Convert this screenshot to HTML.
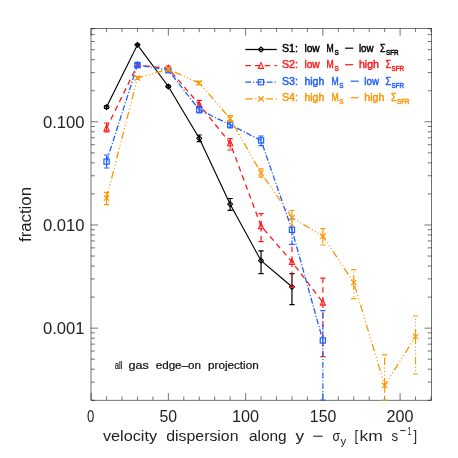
<!DOCTYPE html><html><head><meta charset="utf-8"><style>html,body{margin:0;padding:0;background:#fff}body{width:458px;height:458px;position:relative;overflow:hidden}</style></head><body><svg width="458" height="458" viewBox="0 0 458 458" style="position:absolute;left:0;top:0;opacity:0.999;will-change:transform;filter:grayscale(0);font-family:'Liberation Sans',sans-serif">
<rect width="458" height="458" fill="#fff"/>
<g stroke="#000" stroke-width="0.55" fill="none">
<rect x="91.0" y="28.5" width="340.6" height="371.7"/>
<path d="M91.10 400.2v-7.1M91.10 28.5v7.1"/>
<path d="M106.55 400.2v-3.7M106.55 28.5v3.7"/>
<path d="M122.00 400.2v-3.7M122.00 28.5v3.7"/>
<path d="M137.45 400.2v-3.7M137.45 28.5v3.7"/>
<path d="M152.90 400.2v-3.7M152.90 28.5v3.7"/>
<path d="M168.35 400.2v-7.1M168.35 28.5v7.1"/>
<path d="M183.80 400.2v-3.7M183.80 28.5v3.7"/>
<path d="M199.25 400.2v-3.7M199.25 28.5v3.7"/>
<path d="M214.70 400.2v-3.7M214.70 28.5v3.7"/>
<path d="M230.15 400.2v-3.7M230.15 28.5v3.7"/>
<path d="M245.60 400.2v-7.1M245.60 28.5v7.1"/>
<path d="M261.05 400.2v-3.7M261.05 28.5v3.7"/>
<path d="M276.50 400.2v-3.7M276.50 28.5v3.7"/>
<path d="M291.95 400.2v-3.7M291.95 28.5v3.7"/>
<path d="M307.40 400.2v-3.7M307.40 28.5v3.7"/>
<path d="M322.85 400.2v-7.1M322.85 28.5v7.1"/>
<path d="M338.30 400.2v-3.7M338.30 28.5v3.7"/>
<path d="M353.75 400.2v-3.7M353.75 28.5v3.7"/>
<path d="M369.20 400.2v-3.7M369.20 28.5v3.7"/>
<path d="M384.65 400.2v-3.7M384.65 28.5v3.7"/>
<path d="M400.10 400.2v-7.1M400.10 28.5v7.1"/>
<path d="M415.55 400.2v-3.7M415.55 28.5v3.7"/>
<path d="M431.00 400.2v-3.7M431.00 28.5v3.7"/>
<path d="M91.0 400.26h3.9M431.6 400.26h-3.9"/>
<path d="M91.0 382.10h3.9M431.6 382.10h-3.9"/>
<path d="M91.0 369.21h3.9M431.6 369.21h-3.9"/>
<path d="M91.0 359.21h3.9M431.6 359.21h-3.9"/>
<path d="M91.0 351.04h3.9M431.6 351.04h-3.9"/>
<path d="M91.0 344.13h3.9M431.6 344.13h-3.9"/>
<path d="M91.0 338.15h3.9M431.6 338.15h-3.9"/>
<path d="M91.0 332.87h3.9M431.6 332.87h-3.9"/>
<path d="M91.0 328.15h7.1M431.6 328.15h-7.1"/>
<path d="M91.0 297.09h3.9M431.6 297.09h-3.9"/>
<path d="M91.0 278.93h3.9M431.6 278.93h-3.9"/>
<path d="M91.0 266.04h3.9M431.6 266.04h-3.9"/>
<path d="M91.0 256.04h3.9M431.6 256.04h-3.9"/>
<path d="M91.0 247.87h3.9M431.6 247.87h-3.9"/>
<path d="M91.0 240.96h3.9M431.6 240.96h-3.9"/>
<path d="M91.0 234.98h3.9M431.6 234.98h-3.9"/>
<path d="M91.0 229.70h3.9M431.6 229.70h-3.9"/>
<path d="M91.0 224.98h7.1M431.6 224.98h-7.1"/>
<path d="M91.0 193.92h3.9M431.6 193.92h-3.9"/>
<path d="M91.0 175.76h3.9M431.6 175.76h-3.9"/>
<path d="M91.0 162.87h3.9M431.6 162.87h-3.9"/>
<path d="M91.0 152.87h3.9M431.6 152.87h-3.9"/>
<path d="M91.0 144.70h3.9M431.6 144.70h-3.9"/>
<path d="M91.0 137.79h3.9M431.6 137.79h-3.9"/>
<path d="M91.0 131.81h3.9M431.6 131.81h-3.9"/>
<path d="M91.0 126.53h3.9M431.6 126.53h-3.9"/>
<path d="M91.0 121.81h7.1M431.6 121.81h-7.1"/>
<path d="M91.0 90.75h3.9M431.6 90.75h-3.9"/>
<path d="M91.0 72.59h3.9M431.6 72.59h-3.9"/>
<path d="M91.0 59.70h3.9M431.6 59.70h-3.9"/>
<path d="M91.0 49.70h3.9M431.6 49.70h-3.9"/>
<path d="M91.0 41.53h3.9M431.6 41.53h-3.9"/>
<path d="M91.0 34.62h3.9M431.6 34.62h-3.9"/>
<path d="M91.0 28.64h3.9M431.6 28.64h-3.9"/>
</g>
<polyline points="106.55,107.10 137.45,44.80 168.35,86.50 199.25,138.30 230.15,204.20 261.05,260.70 291.95,286.80" fill="none" stroke="#000" stroke-width="1.15"/>
<path d="M106.55 107.10V105.80M106.55 107.10V108.40" stroke="#000" stroke-width="1.2" fill="none"/>
<path d="M103.95 105.80h5.2M103.95 108.40h5.2" stroke="#000" stroke-width="1.2" fill="none"/>
<path d="M104.05 107.10L106.55 104.60L109.05 107.10L106.55 109.60Z" fill="none" stroke="#000" stroke-width="1.1" stroke-linejoin="round"/>
<path d="M137.45 44.80V44.20M137.45 44.80V45.40" stroke="#000" stroke-width="1.2" fill="none"/>
<path d="M134.85 44.20h5.2M134.85 45.40h5.2" stroke="#000" stroke-width="1.2" fill="none"/>
<path d="M134.95 44.80L137.45 42.30L139.95 44.80L137.45 47.30Z" fill="none" stroke="#000" stroke-width="1.1" stroke-linejoin="round"/>
<path d="M168.35 86.50V85.60M168.35 86.50V87.40" stroke="#000" stroke-width="1.2" fill="none"/>
<path d="M165.75 85.60h5.2M165.75 87.40h5.2" stroke="#000" stroke-width="1.2" fill="none"/>
<path d="M165.85 86.50L168.35 84.00L170.85 86.50L168.35 89.00Z" fill="none" stroke="#000" stroke-width="1.1" stroke-linejoin="round"/>
<path d="M199.25 138.30V135.00M199.25 138.30V141.70" stroke="#000" stroke-width="1.2" fill="none"/>
<path d="M196.65 135.00h5.2M196.65 141.70h5.2" stroke="#000" stroke-width="1.2" fill="none"/>
<path d="M196.75 138.30L199.25 135.80L201.75 138.30L199.25 140.80Z" fill="none" stroke="#000" stroke-width="1.1" stroke-linejoin="round"/>
<path d="M230.15 204.20V198.50M230.15 204.20V210.30" stroke="#000" stroke-width="1.2" fill="none"/>
<path d="M227.55 198.50h5.2M227.55 210.30h5.2" stroke="#000" stroke-width="1.2" fill="none"/>
<path d="M227.65 204.20L230.15 201.70L232.65 204.20L230.15 206.70Z" fill="none" stroke="#000" stroke-width="1.1" stroke-linejoin="round"/>
<path d="M261.05 260.70V250.90M261.05 260.70V273.70" stroke="#000" stroke-width="1.2" fill="none"/>
<path d="M258.45 250.90h5.2M258.45 273.70h5.2" stroke="#000" stroke-width="1.2" fill="none"/>
<path d="M258.55 260.70L261.05 258.20L263.55 260.70L261.05 263.20Z" fill="none" stroke="#000" stroke-width="1.1" stroke-linejoin="round"/>
<path d="M291.95 286.80V273.70M291.95 286.80V304.60" stroke="#000" stroke-width="1.2" fill="none"/>
<path d="M289.35 273.70h5.2M289.35 304.60h5.2" stroke="#000" stroke-width="1.2" fill="none"/>
<path d="M289.45 286.80L291.95 284.30L294.45 286.80L291.95 289.30Z" fill="none" stroke="#000" stroke-width="1.1" stroke-linejoin="round"/>
<polyline points="106.55,128.20 137.45,65.00 168.35,68.40 199.25,104.50 230.15,143.00 261.05,226.00 291.95,261.80 322.85,302.40" fill="none" stroke="#ff1a1a" stroke-width="1.3" stroke-dasharray="5.5 4.2"/>
<path d="M106.55 128.20V123.00M106.55 128.20V132.00" stroke="#ff1a1a" stroke-width="1.2" stroke-dasharray="5.5 4.2" fill="none"/>
<path d="M103.95 123.00h5.2M103.95 132.00h5.2" stroke="#ff1a1a" stroke-width="1.2" fill="none"/>
<path d="M103.95 130.90L106.55 125.10L109.15 130.90Z" fill="none" stroke="#ff1a1a" stroke-width="1.1"/>
<path d="M137.45 65.00V63.50M137.45 65.00V66.50" stroke="#ff1a1a" stroke-width="1.2" stroke-dasharray="5.5 4.2" fill="none"/>
<path d="M134.85 63.50h5.2M134.85 66.50h5.2" stroke="#ff1a1a" stroke-width="1.2" fill="none"/>
<path d="M134.85 67.70L137.45 61.90L140.05 67.70Z" fill="none" stroke="#ff1a1a" stroke-width="1.1"/>
<path d="M168.35 68.40V66.00M168.35 68.40V70.60" stroke="#ff1a1a" stroke-width="1.2" stroke-dasharray="5.5 4.2" fill="none"/>
<path d="M165.75 66.00h5.2M165.75 70.60h5.2" stroke="#ff1a1a" stroke-width="1.2" fill="none"/>
<path d="M165.75 71.10L168.35 65.30L170.95 71.10Z" fill="none" stroke="#ff1a1a" stroke-width="1.1"/>
<path d="M199.25 104.50V100.30M199.25 104.50V108.00" stroke="#ff1a1a" stroke-width="1.2" stroke-dasharray="5.5 4.2" fill="none"/>
<path d="M196.65 100.30h5.2M196.65 108.00h5.2" stroke="#ff1a1a" stroke-width="1.2" fill="none"/>
<path d="M196.65 107.20L199.25 101.40L201.85 107.20Z" fill="none" stroke="#ff1a1a" stroke-width="1.1"/>
<path d="M230.15 143.00V138.50M230.15 143.00V150.00" stroke="#ff1a1a" stroke-width="1.2" stroke-dasharray="5.5 4.2" fill="none"/>
<path d="M227.55 138.50h5.2M227.55 150.00h5.2" stroke="#ff1a1a" stroke-width="1.2" fill="none"/>
<path d="M227.55 145.70L230.15 139.90L232.75 145.70Z" fill="none" stroke="#ff1a1a" stroke-width="1.1"/>
<path d="M261.05 226.00V213.70M261.05 226.00V241.70" stroke="#ff1a1a" stroke-width="1.2" stroke-dasharray="5.5 4.2" fill="none"/>
<path d="M258.45 213.70h5.2M258.45 241.70h5.2" stroke="#ff1a1a" stroke-width="1.2" fill="none"/>
<path d="M258.45 228.70L261.05 222.90L263.65 228.70Z" fill="none" stroke="#ff1a1a" stroke-width="1.1"/>
<path d="M291.95 261.80V244.50M291.95 261.80V287.30" stroke="#ff1a1a" stroke-width="1.2" stroke-dasharray="5.5 4.2" fill="none"/>
<path d="M289.35 244.50h5.2M289.35 287.30h5.2" stroke="#ff1a1a" stroke-width="1.2" fill="none"/>
<path d="M289.35 264.50L291.95 258.70L294.55 264.50Z" fill="none" stroke="#ff1a1a" stroke-width="1.1"/>
<path d="M322.85 302.40V278.20M322.85 302.40V356.60" stroke="#ff1a1a" stroke-width="1.2" stroke-dasharray="5.5 4.2" fill="none"/>
<path d="M320.25 278.20h5.2M320.25 356.60h5.2" stroke="#ff1a1a" stroke-width="1.2" fill="none"/>
<path d="M320.25 305.10L322.85 299.30L325.45 305.10Z" fill="none" stroke="#ff1a1a" stroke-width="1.1"/>
<polyline points="106.55,161.60 137.45,65.00 168.35,70.20 199.25,109.70 230.15,124.70 261.05,140.40 291.95,229.80 322.85,340.50" fill="none" stroke="#1f5fff" stroke-width="1.3" stroke-dasharray="5.8 2 1.1 1.8"/>
<path d="M106.55 161.60V155.00M106.55 161.60V168.00" stroke="#1f5fff" stroke-width="1.2" stroke-dasharray="5.8 2 1.1 1.8" fill="none"/>
<path d="M103.95 155.00h5.2M103.95 168.00h5.2" stroke="#1f5fff" stroke-width="1.2" fill="none"/>
<rect x="103.95" y="159.00" width="5.2" height="5.2" fill="none" stroke="#1f5fff" stroke-width="1.2"/>
<path d="M137.45 65.00V63.50M137.45 65.00V66.50" stroke="#1f5fff" stroke-width="1.2" stroke-dasharray="5.8 2 1.1 1.8" fill="none"/>
<path d="M134.85 63.50h5.2M134.85 66.50h5.2" stroke="#1f5fff" stroke-width="1.2" fill="none"/>
<rect x="134.85" y="62.40" width="5.2" height="5.2" fill="none" stroke="#1f5fff" stroke-width="1.2"/>
<path d="M168.35 70.20V68.60M168.35 70.20V71.80" stroke="#1f5fff" stroke-width="1.2" stroke-dasharray="5.8 2 1.1 1.8" fill="none"/>
<path d="M165.75 68.60h5.2M165.75 71.80h5.2" stroke="#1f5fff" stroke-width="1.2" fill="none"/>
<rect x="165.75" y="67.60" width="5.2" height="5.2" fill="none" stroke="#1f5fff" stroke-width="1.2"/>
<path d="M199.25 109.70V106.30M199.25 109.70V112.90" stroke="#1f5fff" stroke-width="1.2" stroke-dasharray="5.8 2 1.1 1.8" fill="none"/>
<path d="M196.65 106.30h5.2M196.65 112.90h5.2" stroke="#1f5fff" stroke-width="1.2" fill="none"/>
<rect x="196.65" y="107.10" width="5.2" height="5.2" fill="none" stroke="#1f5fff" stroke-width="1.2"/>
<path d="M230.15 124.70V121.00M230.15 124.70V128.00" stroke="#1f5fff" stroke-width="1.2" stroke-dasharray="5.8 2 1.1 1.8" fill="none"/>
<path d="M227.55 121.00h5.2M227.55 128.00h5.2" stroke="#1f5fff" stroke-width="1.2" fill="none"/>
<rect x="227.55" y="122.10" width="5.2" height="5.2" fill="none" stroke="#1f5fff" stroke-width="1.2"/>
<path d="M261.05 140.40V136.00M261.05 140.40V145.60" stroke="#1f5fff" stroke-width="1.2" stroke-dasharray="5.8 2 1.1 1.8" fill="none"/>
<path d="M258.45 136.00h5.2M258.45 145.60h5.2" stroke="#1f5fff" stroke-width="1.2" fill="none"/>
<rect x="258.45" y="137.80" width="5.2" height="5.2" fill="none" stroke="#1f5fff" stroke-width="1.2"/>
<path d="M291.95 229.80V219.00M291.95 229.80V244.30" stroke="#1f5fff" stroke-width="1.2" stroke-dasharray="5.8 2 1.1 1.8" fill="none"/>
<path d="M289.35 219.00h5.2M289.35 244.30h5.2" stroke="#1f5fff" stroke-width="1.2" fill="none"/>
<rect x="289.35" y="227.20" width="5.2" height="5.2" fill="none" stroke="#1f5fff" stroke-width="1.2"/>
<path d="M322.85 340.50V310.60M322.85 340.50V400.20" stroke="#1f5fff" stroke-width="1.2" stroke-dasharray="5.8 2 1.1 1.8" fill="none"/>
<path d="M320.25 310.60h5.2M320.25 400.20h5.2" stroke="#1f5fff" stroke-width="1.2" fill="none"/>
<rect x="320.25" y="337.90" width="5.2" height="5.2" fill="none" stroke="#1f5fff" stroke-width="1.2"/>
<polyline points="106.55,198.20 137.45,78.00 168.35,69.30 199.25,83.00 230.15,118.60 261.05,173.00 291.95,217.50 322.85,236.20 353.75,282.50 384.65,385.40 415.55,336.50" fill="none" stroke="#ff9500" stroke-width="1.3" stroke-dasharray="7.4 2.6 1 2.4 1 2.4 1 2.6"/>
<path d="M106.55 198.20V192.30M106.55 198.20V204.70" stroke="#ff9500" stroke-width="1.2" stroke-dasharray="7.4 2.6 1 2.4 1 2.4 1 2.6" fill="none"/>
<path d="M103.95 192.30h5.2M103.95 204.70h5.2" stroke="#ff9500" stroke-width="1.2" fill="none"/>
<path d="M103.85 195.50L109.25 200.90M103.85 200.90L109.25 195.50" fill="none" stroke="#ff9500" stroke-width="1.2"/>
<path d="M137.45 78.00V76.50M137.45 78.00V79.50" stroke="#ff9500" stroke-width="1.2" stroke-dasharray="7.4 2.6 1 2.4 1 2.4 1 2.6" fill="none"/>
<path d="M134.85 76.50h5.2M134.85 79.50h5.2" stroke="#ff9500" stroke-width="1.2" fill="none"/>
<path d="M134.75 75.30L140.15 80.70M134.75 80.70L140.15 75.30" fill="none" stroke="#ff9500" stroke-width="1.2"/>
<path d="M168.35 69.30V67.80M168.35 69.30V70.80" stroke="#ff9500" stroke-width="1.2" stroke-dasharray="7.4 2.6 1 2.4 1 2.4 1 2.6" fill="none"/>
<path d="M165.75 67.80h5.2M165.75 70.80h5.2" stroke="#ff9500" stroke-width="1.2" fill="none"/>
<path d="M165.65 66.60L171.05 72.00M165.65 72.00L171.05 66.60" fill="none" stroke="#ff9500" stroke-width="1.2"/>
<path d="M199.25 83.00V81.30M199.25 83.00V84.70" stroke="#ff9500" stroke-width="1.2" stroke-dasharray="7.4 2.6 1 2.4 1 2.4 1 2.6" fill="none"/>
<path d="M196.65 81.30h5.2M196.65 84.70h5.2" stroke="#ff9500" stroke-width="1.2" fill="none"/>
<path d="M196.55 80.30L201.95 85.70M196.55 85.70L201.95 80.30" fill="none" stroke="#ff9500" stroke-width="1.2"/>
<path d="M230.15 118.60V115.50M230.15 118.60V121.30" stroke="#ff9500" stroke-width="1.2" stroke-dasharray="7.4 2.6 1 2.4 1 2.4 1 2.6" fill="none"/>
<path d="M227.55 115.50h5.2M227.55 121.30h5.2" stroke="#ff9500" stroke-width="1.2" fill="none"/>
<path d="M227.45 115.90L232.85 121.30M227.45 121.30L232.85 115.90" fill="none" stroke="#ff9500" stroke-width="1.2"/>
<path d="M261.05 173.00V168.90M261.05 173.00V177.20" stroke="#ff9500" stroke-width="1.2" stroke-dasharray="7.4 2.6 1 2.4 1 2.4 1 2.6" fill="none"/>
<path d="M258.45 168.90h5.2M258.45 177.20h5.2" stroke="#ff9500" stroke-width="1.2" fill="none"/>
<path d="M258.35 170.30L263.75 175.70M258.35 175.70L263.75 170.30" fill="none" stroke="#ff9500" stroke-width="1.2"/>
<path d="M291.95 217.50V210.50M291.95 217.50V226.00" stroke="#ff9500" stroke-width="1.2" stroke-dasharray="7.4 2.6 1 2.4 1 2.4 1 2.6" fill="none"/>
<path d="M289.35 210.50h5.2M289.35 226.00h5.2" stroke="#ff9500" stroke-width="1.2" fill="none"/>
<path d="M289.25 214.80L294.65 220.20M289.25 220.20L294.65 214.80" fill="none" stroke="#ff9500" stroke-width="1.2"/>
<path d="M322.85 236.20V228.50M322.85 236.20V245.00" stroke="#ff9500" stroke-width="1.2" stroke-dasharray="7.4 2.6 1 2.4 1 2.4 1 2.6" fill="none"/>
<path d="M320.25 228.50h5.2M320.25 245.00h5.2" stroke="#ff9500" stroke-width="1.2" fill="none"/>
<path d="M320.15 233.50L325.55 238.90M320.15 238.90L325.55 233.50" fill="none" stroke="#ff9500" stroke-width="1.2"/>
<path d="M353.75 282.50V269.70M353.75 282.50V298.70" stroke="#ff9500" stroke-width="1.2" stroke-dasharray="7.4 2.6 1 2.4 1 2.4 1 2.6" fill="none"/>
<path d="M351.15 269.70h5.2M351.15 298.70h5.2" stroke="#ff9500" stroke-width="1.2" fill="none"/>
<path d="M351.05 279.80L356.45 285.20M351.05 285.20L356.45 279.80" fill="none" stroke="#ff9500" stroke-width="1.2"/>
<path d="M384.65 385.40V354.80M384.65 385.40V400.20" stroke="#ff9500" stroke-width="1.2" stroke-dasharray="7.4 2.6 1 2.4 1 2.4 1 2.6" fill="none"/>
<path d="M382.05 354.80h5.2M382.05 400.20h5.2" stroke="#ff9500" stroke-width="1.2" fill="none"/>
<path d="M381.95 382.70L387.35 388.10M381.95 388.10L387.35 382.70" fill="none" stroke="#ff9500" stroke-width="1.2"/>
<path d="M415.55 336.50V316.00M415.55 336.50V374.00" stroke="#ff9500" stroke-width="1.2" stroke-dasharray="7.4 2.6 1 2.4 1 2.4 1 2.6" fill="none"/>
<path d="M412.95 316.00h5.2M412.95 374.00h5.2" stroke="#ff9500" stroke-width="1.2" fill="none"/>
<path d="M412.85 333.80L418.25 339.20M412.85 339.20L418.25 333.80" fill="none" stroke="#ff9500" stroke-width="1.2"/>
<path d="M245.3 49.5H276.8" stroke="#000" stroke-width="1.3" fill="none"/>
<path d="M258.50 49.50L261.00 47.00L263.50 49.50L261.00 52.00Z" fill="none" stroke="#000" stroke-width="1.1" stroke-linejoin="round"/>
<path d="M245.3 65.7H276.8" stroke="#ff1a1a" stroke-width="1.3" stroke-dasharray="5.5 4.2" fill="none"/>
<path d="M258.40 68.40L261.00 62.60L263.60 68.40Z" fill="none" stroke="#ff1a1a" stroke-width="1.1"/>
<path d="M245.3 82.2H276.8" stroke="#1f5fff" stroke-width="1.3" stroke-dasharray="5.8 2 1.1 1.8" fill="none"/>
<rect x="258.40" y="79.60" width="5.2" height="5.2" fill="none" stroke="#1f5fff" stroke-width="1.2"/>
<path d="M245.3 98.8H276.8" stroke="#ff9500" stroke-width="1.3" stroke-dasharray="7.4 2.6 1 2.4 1 2.4 1 2.6" fill="none"/>
<path d="M258.30 96.10L263.70 101.50M258.30 101.50L263.70 96.10" fill="none" stroke="#ff9500" stroke-width="1.2"/>
<text x="281.9" y="51.8" font-size="10.6" fill="#000" font-weight="normal" textLength="16.0" lengthAdjust="spacingAndGlyphs" stroke="#000" stroke-width="0.45">S1:</text>
<text x="304.4" y="51.8" font-size="10.6" fill="#000" font-weight="normal" textLength="15.3" lengthAdjust="spacingAndGlyphs" stroke="#000" stroke-width="0.45">low</text>
<text x="326.6" y="51.8" font-size="10.6" fill="#000" font-weight="normal" textLength="7.2" lengthAdjust="spacingAndGlyphs" stroke="#000" stroke-width="0.45">M</text>
<text x="334.4" y="54.8" font-size="7.7" fill="#000" font-weight="normal" textLength="4.3" lengthAdjust="spacingAndGlyphs" stroke="#000" stroke-width="0.45">S</text>
<path d="M345.1 48.199999999999996H353.2" stroke="#000" stroke-width="1.2"/>
<text x="358.9" y="51.8" font-size="10.6" fill="#000" font-weight="normal" textLength="14.6" lengthAdjust="spacingAndGlyphs" stroke="#000" stroke-width="0.45">low</text>
<text x="380.0" y="51.8" font-size="10.6" fill="#000" font-weight="normal" textLength="5.6" lengthAdjust="spacingAndGlyphs" stroke="#000" stroke-width="0.45">Σ</text>
<text x="386.0" y="54.8" font-size="7.4" fill="#000" font-weight="normal" textLength="12.6" lengthAdjust="spacingAndGlyphs" stroke="#000" stroke-width="0.45">SFR</text>
<text x="281.9" y="68.3" font-size="10.6" fill="#ff1a1a" font-weight="normal" textLength="16.0" lengthAdjust="spacingAndGlyphs" stroke="#ff1a1a" stroke-width="0.45">S2:</text>
<text x="304.4" y="68.3" font-size="10.6" fill="#ff1a1a" font-weight="normal" textLength="15.3" lengthAdjust="spacingAndGlyphs" stroke="#ff1a1a" stroke-width="0.45">low</text>
<text x="326.6" y="68.3" font-size="10.6" fill="#ff1a1a" font-weight="normal" textLength="7.2" lengthAdjust="spacingAndGlyphs" stroke="#ff1a1a" stroke-width="0.45">M</text>
<text x="334.4" y="71.3" font-size="7.7" fill="#ff1a1a" font-weight="normal" textLength="4.3" lengthAdjust="spacingAndGlyphs" stroke="#ff1a1a" stroke-width="0.45">S</text>
<path d="M345.1 64.7H353.2" stroke="#ff1a1a" stroke-width="1.2"/>
<text x="358.9" y="68.3" font-size="10.6" fill="#ff1a1a" font-weight="normal" textLength="20.1" lengthAdjust="spacingAndGlyphs" stroke="#ff1a1a" stroke-width="0.45">high</text>
<text x="385.5" y="68.3" font-size="10.6" fill="#ff1a1a" font-weight="normal" textLength="5.6" lengthAdjust="spacingAndGlyphs" stroke="#ff1a1a" stroke-width="0.45">Σ</text>
<text x="391.5" y="71.3" font-size="7.4" fill="#ff1a1a" font-weight="normal" textLength="12.6" lengthAdjust="spacingAndGlyphs" stroke="#ff1a1a" stroke-width="0.45">SFR</text>
<text x="281.9" y="84.8" font-size="10.6" fill="#1f5fff" font-weight="normal" textLength="16.0" lengthAdjust="spacingAndGlyphs" stroke="#1f5fff" stroke-width="0.45">S3:</text>
<text x="304.4" y="84.8" font-size="10.6" fill="#1f5fff" font-weight="normal" textLength="20.0" lengthAdjust="spacingAndGlyphs" stroke="#1f5fff" stroke-width="0.45">high</text>
<text x="331.4" y="84.8" font-size="10.6" fill="#1f5fff" font-weight="normal" textLength="7.2" lengthAdjust="spacingAndGlyphs" stroke="#1f5fff" stroke-width="0.45">M</text>
<text x="339.2" y="87.8" font-size="7.7" fill="#1f5fff" font-weight="normal" textLength="4.3" lengthAdjust="spacingAndGlyphs" stroke="#1f5fff" stroke-width="0.45">S</text>
<path d="M350.6 81.2H358.6" stroke="#1f5fff" stroke-width="1.2"/>
<text x="364.3" y="84.8" font-size="10.6" fill="#1f5fff" font-weight="normal" textLength="14.7" lengthAdjust="spacingAndGlyphs" stroke="#1f5fff" stroke-width="0.45">low</text>
<text x="385.5" y="84.8" font-size="10.6" fill="#1f5fff" font-weight="normal" textLength="5.6" lengthAdjust="spacingAndGlyphs" stroke="#1f5fff" stroke-width="0.45">Σ</text>
<text x="391.5" y="87.8" font-size="7.4" fill="#1f5fff" font-weight="normal" textLength="12.6" lengthAdjust="spacingAndGlyphs" stroke="#1f5fff" stroke-width="0.45">SFR</text>
<text x="281.9" y="101.3" font-size="10.6" fill="#ff9500" font-weight="normal" textLength="16.0" lengthAdjust="spacingAndGlyphs" stroke="#ff9500" stroke-width="0.45">S4:</text>
<text x="304.4" y="101.3" font-size="10.6" fill="#ff9500" font-weight="normal" textLength="20.0" lengthAdjust="spacingAndGlyphs" stroke="#ff9500" stroke-width="0.45">high</text>
<text x="331.4" y="101.3" font-size="10.6" fill="#ff9500" font-weight="normal" textLength="7.2" lengthAdjust="spacingAndGlyphs" stroke="#ff9500" stroke-width="0.45">M</text>
<text x="339.2" y="104.3" font-size="7.7" fill="#ff9500" font-weight="normal" textLength="4.3" lengthAdjust="spacingAndGlyphs" stroke="#ff9500" stroke-width="0.45">S</text>
<path d="M350.6 97.7H358.6" stroke="#ff9500" stroke-width="1.2"/>
<text x="364.3" y="101.3" font-size="10.6" fill="#ff9500" font-weight="normal" textLength="20.1" lengthAdjust="spacingAndGlyphs" stroke="#ff9500" stroke-width="0.45">high</text>
<text x="391.0" y="101.3" font-size="10.6" fill="#ff9500" font-weight="normal" textLength="5.6" lengthAdjust="spacingAndGlyphs" stroke="#ff9500" stroke-width="0.45">Σ</text>
<text x="397.0" y="104.3" font-size="7.4" fill="#ff9500" font-weight="normal" textLength="12.6" lengthAdjust="spacingAndGlyphs" stroke="#ff9500" stroke-width="0.45">SFR</text>
<text x="87.1" y="422.3" font-size="15.6" fill="#222" font-weight="normal" textLength="7.3" lengthAdjust="spacingAndGlyphs">0</text>
<text x="159.4" y="422.3" font-size="15.6" fill="#222" font-weight="normal" textLength="17.6" lengthAdjust="spacingAndGlyphs">50</text>
<text x="232.0" y="422.3" font-size="15.6" fill="#222" font-weight="normal" textLength="27.2" lengthAdjust="spacingAndGlyphs">100</text>
<text x="309.8" y="422.3" font-size="15.6" fill="#222" font-weight="normal" textLength="26.5" lengthAdjust="spacingAndGlyphs">150</text>
<text x="386.6" y="422.3" font-size="15.6" fill="#222" font-weight="normal" textLength="26.9" lengthAdjust="spacingAndGlyphs">200</text>
<text x="43.0" y="127.7" font-size="15.6" fill="#222" font-weight="normal" textLength="41.6" lengthAdjust="spacingAndGlyphs">0.100</text>
<text x="43.0" y="230.8" font-size="15.6" fill="#222" font-weight="normal" textLength="41.6" lengthAdjust="spacingAndGlyphs">0.010</text>
<text x="43.0" y="334.1" font-size="15.6" fill="#222" font-weight="normal" textLength="41.6" lengthAdjust="spacingAndGlyphs">0.001</text>
<text x="102.9" y="441.0" font-size="15.5" fill="#222" font-weight="normal" textLength="54.2" lengthAdjust="spacingAndGlyphs">velocity</text>
<text x="166.3" y="441.0" font-size="15.5" fill="#222" font-weight="normal" textLength="72.2" lengthAdjust="spacingAndGlyphs">dispersion</text>
<text x="249.0" y="441.0" font-size="15.5" fill="#222" font-weight="normal" textLength="37.7" lengthAdjust="spacingAndGlyphs">along</text>
<text x="295.4" y="441.0" font-size="15.5" fill="#222" font-weight="normal" textLength="8.6" lengthAdjust="spacingAndGlyphs">y</text>
<path d="M313.2 436.2H322.6" stroke="#222" stroke-width="1.1"/>
<text x="332.6" y="441.0" font-size="15.5" fill="#222" font-weight="normal" textLength="7.6" lengthAdjust="spacingAndGlyphs">σ</text>
<text x="340.6" y="444.5" font-size="10" fill="#222" font-weight="normal" textLength="5.7" lengthAdjust="spacingAndGlyphs">y</text>
<text x="354.5" y="441.0" font-size="15.5" fill="#222" font-weight="normal" textLength="3.6" lengthAdjust="spacingAndGlyphs">[</text>
<text x="359.6" y="441.0" font-size="15.5" fill="#222" font-weight="normal" textLength="23.3" lengthAdjust="spacingAndGlyphs">km</text>
<text x="391.4" y="441.0" font-size="15.5" fill="#222" font-weight="normal" textLength="6.6" lengthAdjust="spacingAndGlyphs">s</text>
<path d="M400.2 430.6H405.6" stroke="#222" stroke-width="1"/>
<text x="407.6" y="434.6" font-size="10" fill="#222" font-weight="normal" textLength="4.0" lengthAdjust="spacingAndGlyphs">1</text>
<text x="413.6" y="441.0" font-size="15.5" fill="#222" font-weight="normal" textLength="3.6" lengthAdjust="spacingAndGlyphs">]</text>
<text transform="translate(31.1,242) rotate(-90)" font-size="16.5" fill="#222" textLength="55" lengthAdjust="spacingAndGlyphs">fraction</text>
<text x="114.8" y="369.2" font-size="10" fill="#111" font-weight="normal" textLength="7.7" lengthAdjust="spacingAndGlyphs" stroke="#111" stroke-width="0.2">all</text>
<text x="128.4" y="369.2" font-size="10" fill="#111" font-weight="normal" textLength="20.3" lengthAdjust="spacingAndGlyphs" stroke="#111" stroke-width="0.2">gas</text>
<text x="155.7" y="369.2" font-size="10" fill="#111" font-weight="normal" textLength="45.3" lengthAdjust="spacingAndGlyphs" stroke="#111" stroke-width="0.2">edge–on</text>
<text x="208.0" y="369.2" font-size="10" fill="#111" font-weight="normal" textLength="50.7" lengthAdjust="spacingAndGlyphs" stroke="#111" stroke-width="0.2">projection</text>
</svg></body></html>
